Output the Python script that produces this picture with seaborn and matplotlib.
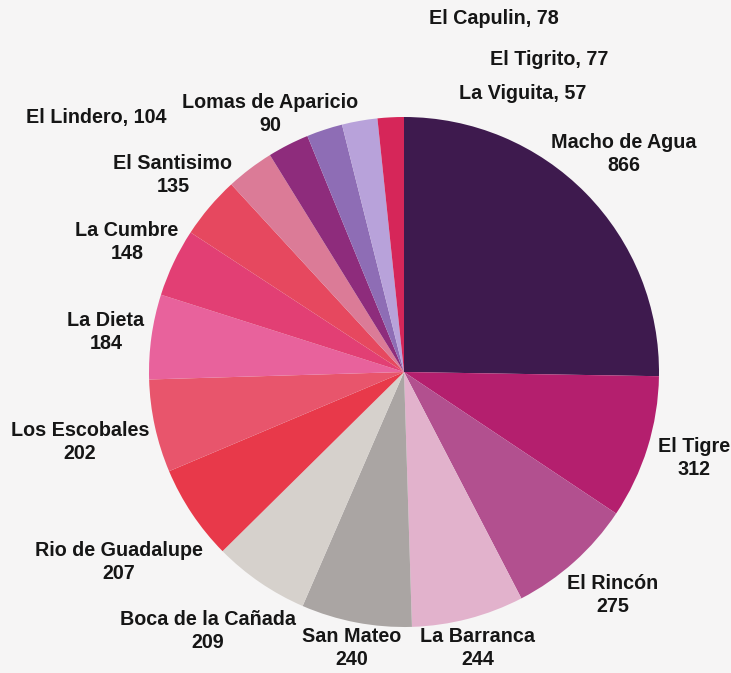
import matplotlib
matplotlib.use("Agg")
import matplotlib.pyplot as plt
import seaborn as sns

# data (clockwise from 12 o'clock)
places = [
    "Macho de Agua", "El Tigre", "El Rincón", "La Barranca", "San Mateo",
    "Boca de la Cañada", "Rio de Guadalupe", "Los Escobales", "La Dieta",
    "La Cumbre", "El Santisimo", "El Lindero", "Lomas de Aparicio",
    "El Capulin", "El Tigrito", "La Viguita",
]
counts = [866, 312, 275, 244, 240, 209, 207, 202, 184, 148, 135, 104, 90, 78, 77, 57]

slice_colors = [
    "#3e1a4e", "#b41f6e", "#b2508f", "#e2b2cc", "#aaa5a3", "#d6d1cc",
    "#e8394a", "#e8556c", "#e8629c", "#e23f74", "#e6485f", "#db7b97",
    "#8e2c7c", "#8e6db5", "#b8a2da", "#d62659",
]

# labels written as "name, value" on a single line
one_line = ["El Lindero", "El Capulin", "El Tigrito", "La Viguita"]

# label centres, in pie radius units from the pie centre
label_pos = {
    "Macho de Agua": (0.863, 0.855),
    "El Tigre": (1.137, -0.337),
    "El Rincón": (0.82, -0.875),
    "La Barranca": (0.29, -1.082),
    "San Mateo": (-0.204, -1.082),
    "Boca de la Cañada": (-0.769, -1.016),
    "Rio de Guadalupe": (-1.118, -0.745),
    "Los Escobales": (-1.271, -0.275),
    "La Dieta": (-1.169, 0.157),
    "La Cumbre": (-1.086, 0.51),
    "El Santisimo": (-0.906, 0.773),
    "El Lindero": (-1.208, 1.0),
    "Lomas de Aparicio": (-0.525, 1.012),
    "El Capulin": (0.353, 1.388),
    "El Tigrito": (0.571, 1.224),
    "La Viguita": (0.467, 1.094),
}

sns.set_theme(style="white")
plt.rcParams["font.family"] = ["Liberation Sans", "DejaVu Sans"]

fig = plt.figure(figsize=(7.31, 6.73), dpi=100)
fig.patch.set_facecolor("#f6f5f5")
ax = fig.add_axes([0, 0, 1, 1])

ax.pie(
    counts,
    colors=slice_colors,
    startangle=90,
    counterclock=False,
    radius=1,
    wedgeprops={"linewidth": 0},
)

for name, val in zip(places, counts):
    x, y = label_pos[name]
    txt = f"{name}, {val}" if name in one_line else f"{name}\n{val}"
    ax.text(x, y, txt, ha="center", va="center", fontsize=14.2,
            fontweight="bold", color="#161616", linespacing=1.3)

# pie centre sits at (404, 372) px with a 255 px radius
ax.set_xlim(-404 / 255, (731 - 404) / 255)
ax.set_ylim((372 - 673) / 255, 372 / 255)
ax.set_aspect("equal")
ax.axis("off")

fig.savefig("out.png", dpi=100, facecolor=fig.get_facecolor())
